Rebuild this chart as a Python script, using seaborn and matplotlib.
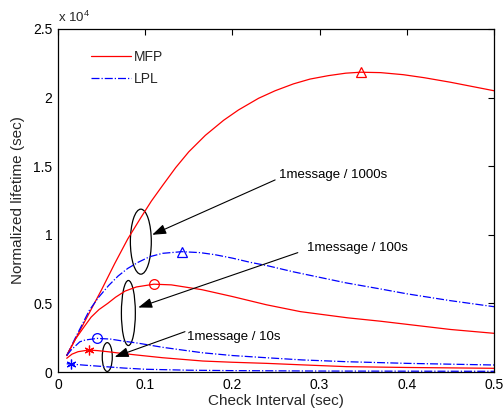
import numpy as np
import matplotlib
matplotlib.use("Agg")
import matplotlib.pyplot as plt
import seaborn as sns
from matplotlib.patches import Ellipse
from matplotlib.ticker import FuncFormatter

# values (lifetime in units of 1e4 sec)
x_mfp_1000 = [0.01, 0.03, 0.05, 0.065, 0.08, 0.095, 0.107, 0.12, 0.135, 0.15, 0.169, 0.19, 0.207, 0.23, 0.249, 0.27, 0.289, 0.31, 0.33, 0.347, 0.37, 0.396, 0.42, 0.45, 0.475, 0.5]
y_mfp_1000 = [0.12, 0.36, 0.60, 0.79, 0.97, 1.125, 1.245, 1.36, 1.49, 1.605, 1.725, 1.835, 1.91, 1.995, 2.05, 2.10, 2.135, 2.16, 2.178, 2.185, 2.182, 2.167, 2.145, 2.112, 2.081, 2.05]

x_lpl_1000 = [0.01, 0.02, 0.036, 0.046, 0.058, 0.069, 0.08, 0.092, 0.105, 0.12, 0.142, 0.163, 0.18, 0.2, 0.22, 0.24, 0.27, 0.3, 0.33, 0.37, 0.4, 0.45, 0.5]
y_lpl_1000 = [0.12, 0.25, 0.45, 0.54, 0.63, 0.70, 0.755, 0.80, 0.84, 0.865, 0.877, 0.87, 0.855, 0.83, 0.80, 0.775, 0.73, 0.69, 0.65, 0.605, 0.57, 0.52, 0.476]

x_mfp_100 = [0.01, 0.02, 0.03, 0.038, 0.047, 0.057, 0.066, 0.077, 0.09, 0.11, 0.13, 0.15, 0.165, 0.2, 0.239, 0.278, 0.332, 0.37, 0.406, 0.45, 0.5]
y_mfp_100 = [0.12, 0.24, 0.33, 0.40, 0.455, 0.50, 0.545, 0.59, 0.62, 0.64, 0.635, 0.615, 0.60, 0.55, 0.49, 0.44, 0.395, 0.37, 0.343, 0.31, 0.282]

x_lpl_100 = [0.01, 0.015, 0.025, 0.031, 0.045, 0.06, 0.075, 0.092, 0.12, 0.145, 0.166, 0.2, 0.239, 0.28, 0.331, 0.4, 0.45, 0.5]
y_lpl_100 = [0.12, 0.16, 0.22, 0.233, 0.245, 0.24, 0.225, 0.21, 0.18, 0.158, 0.14, 0.12, 0.104, 0.088, 0.075, 0.063, 0.057, 0.051]

x_mfp_10 = [0.01, 0.016, 0.023, 0.035, 0.045, 0.057, 0.07, 0.09, 0.12, 0.166, 0.2, 0.239, 0.28, 0.331, 0.4, 0.45, 0.5]
y_mfp_10 = [0.10, 0.13, 0.148, 0.16, 0.156, 0.148, 0.138, 0.124, 0.104, 0.08, 0.071, 0.063, 0.052, 0.039, 0.033, 0.03, 0.027]

x_lpl_10 = [0.01, 0.0146, 0.03, 0.054, 0.075, 0.1, 0.15, 0.2, 0.3, 0.4, 0.5]
y_lpl_10 = [0.06, 0.058, 0.05, 0.039, 0.029, 0.02, 0.013, 0.01, 0.007, 0.006, 0.005]

# peak markers
mfp_marks_x = [0.347, 0.11, 0.035]
mfp_marks_y = [2.185, 0.64, 0.16]
lpl_marks_x = [0.142, 0.045, 0.0146]
lpl_marks_y = [0.877, 0.245, 0.058]
mark_shapes = ["^", "o", (6, 2, 0)]

# annotations
ann_labels = ["1message / 1000s", "1message / 100s", "1message / 10s"]
ann_text_xy = [(0.2534, 1.436), (0.2855, 0.904), (0.148, 0.255)]
ann_tail_xy = [(0.249, 1.40), (0.275, 0.87), (0.1456, 0.294)]
ann_head_xy = [(0.108, 1.00), (0.092, 0.47), (0.065, 0.11)]
ell_center = [(0.095, 0.95), (0.0807, 0.43), (0.0565, 0.109)]
ell_size = [(0.024, 0.474), (0.016, 0.474), (0.0115, 0.21)]

SCALE = 1e4
RED = "#ff0000"
BLUE = "#0000ff"

sns.set_theme(style="white")
plt.rcParams["font.family"] = ["Liberation Sans", "DejaVu Sans"]
plt.rcParams["mathtext.fontset"] = "custom"
plt.rcParams["mathtext.rm"] = "Liberation Sans"

fig = plt.figure(figsize=(5.04, 4.15), dpi=100)
ax = fig.add_axes([58 / 504, 43 / 415, 436 / 504, 343 / 415])

series = [
    (x_mfp_1000, y_mfp_1000, RED, "-"),
    (x_lpl_1000, y_lpl_1000, BLUE, "-."),
    (x_mfp_100, y_mfp_100, RED, "-"),
    (x_lpl_100, y_lpl_100, BLUE, "-."),
    (x_mfp_10, y_mfp_10, RED, "-"),
    (x_lpl_10, y_lpl_10, BLUE, "-."),
]
for xs, ys, col, ls in series:
    sns.lineplot(x=xs, y=np.array(ys) * SCALE, ax=ax, color=col, linestyle=ls,
                 linewidth=0.9, sort=False, estimator=None)

for i in range(3):
    ax.plot(mfp_marks_x[i], mfp_marks_y[i] * SCALE, marker=mark_shapes[i], ms=7,
            mfc="none", mec=RED, mew=0.9, ls="none")
    ax.plot(lpl_marks_x[i], lpl_marks_y[i] * SCALE, marker=mark_shapes[i], ms=7,
            mfc="none", mec=BLUE, mew=0.9, ls="none")

for (cx, cy), (w, h) in zip(ell_center, ell_size):
    ax.add_patch(Ellipse((cx, cy * SCALE), w, h * SCALE, fill=False, ec="black", lw=0.9))

for lab, (tx, ty), (ax0, ay0), (hx, hy) in zip(ann_labels, ann_text_xy, ann_tail_xy, ann_head_xy):
    ax.text(tx, ty * SCALE, lab, ha="left", va="center", fontsize=9.5, color="black")
    ax.annotate("", xy=(hx, hy * SCALE), xytext=(ax0, ay0 * SCALE),
                arrowprops=dict(arrowstyle="-|>,head_length=0.7,head_width=0.25",
                                color="black", lw=0.8, shrinkA=0, shrinkB=0))

ax.set_xlim(0, 0.5)
ax.set_ylim(0, 2.5 * SCALE)
ax.set_xticks([0, 0.1, 0.2, 0.3, 0.4, 0.5])
ax.set_yticks(np.arange(0, 2.51, 0.5) * SCALE)
ax.xaxis.set_major_formatter(FuncFormatter(lambda v, p: f"{v:g}"))
ax.yaxis.set_major_formatter(FuncFormatter(lambda v, p: f"{v / SCALE:g}"))
ax.tick_params(direction="in", length=4, width=0.8, top=True, right=True,
               labelsize=10, colors="black", pad=4)
for sp in ax.spines.values():
    sp.set_color("black")
    sp.set_linewidth(0.9)

ax.set_xlabel("Check Interval (sec)", fontsize=11, labelpad=2)
ax.set_ylabel("Normalized lifetime (sec)", fontsize=11, labelpad=6)
ax.text(0.0, 1.012, r"x 10$^{4}$", transform=ax.transAxes, ha="left", va="bottom", fontsize=9.5)

lines = ax.get_lines()
ax.legend([lines[0], lines[1]], ["MFP", "LPL"], loc="upper left", frameon=False,
          bbox_to_anchor=(0.062, 0.955), handlelength=2.9, fontsize=10, borderaxespad=0,
          labelspacing=0.6, handletextpad=0.25)

plt.savefig("out.png", dpi=100)
